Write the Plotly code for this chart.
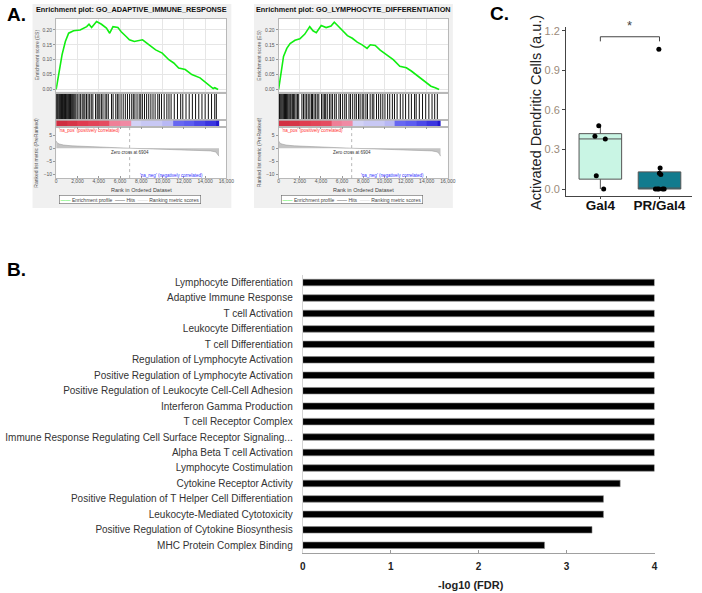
import plotly.graph_objects as go

W, H = 702, 593
FONT = "Liberation Sans, Arial, sans-serif"

# ---- panel A: GSEA enrichment plots -------------------------------------------------
gsea_titles = ["Enrichment plot: GO_ADAPTIVE_IMMUNE_RESPONSE",
               "Enrichment plot: GO_LYMPHOCYTE_DIFFERENTIATION"]

es_rank_a1 = [0, 247, 556, 864, 1173, 1636, 2253, 2870, 3086, 3333, 3796, 4259, 4722, 5031,
              5340, 5802, 6111, 6574, 6883, 7346, 7654, 8117, 8735, 9352, 9969, 10586, 11049,
              11512, 12130, 12747, 13519, 14136, 14753, 14907, 15216]
es_a1 = [0.0, 0.056, 0.117, 0.161, 0.189, 0.197, 0.200, 0.211, 0.219, 0.208, 0.228, 0.219,
         0.206, 0.189, 0.211, 0.208, 0.194, 0.178, 0.167, 0.161, 0.163, 0.167, 0.150, 0.133,
         0.122, 0.100, 0.089, 0.072, 0.067, 0.050, 0.039, 0.022, 0.003, 0.006, 0.0]

es_rank_a2 = [0, 248, 464, 774, 1084, 1548, 2012, 2477, 2941, 3251, 3560, 4025, 4489, 4954,
              5263, 5573, 6037, 6502, 6966, 7430, 7895, 8359, 8669, 9133, 9598, 10217, 10836,
              11455, 12074, 12539, 13158, 13777, 14396, 14799, 15170]
es_a2 = [0.0, 0.052, 0.111, 0.138, 0.154, 0.165, 0.170, 0.186, 0.211, 0.197, 0.191, 0.215,
         0.208, 0.213, 0.226, 0.215, 0.197, 0.181, 0.172, 0.159, 0.150, 0.138, 0.150, 0.148,
         0.132, 0.116, 0.100, 0.078, 0.073, 0.062, 0.046, 0.030, 0.011, 0.006, 0.0]

hits_a1 = [20, 90, 160, 250, 330, 420, 500, 600, 700, 780, 880, 960, 1050, 1150, 1250, 1350,
           1430, 1550, 1650, 1750, 1850, 1980, 2150, 2300, 2450, 2600, 2700, 2850, 3000, 3150,
           3300, 3450, 3700, 3850, 3950, 4100, 4250, 4400, 4600, 4750, 4900, 5200, 5350, 5600,
           5750, 5900, 6100, 6300, 6500, 6700, 6900, 7100, 7250, 7400, 7600, 7800, 7950, 8100,
           8300, 8500, 8700, 8900, 9100, 9300, 9550, 9700, 9900, 10150, 10400, 10600, 10800,
           11100, 11400, 11700, 11900, 12200, 12500, 12800, 13100, 13400, 13700, 14000, 14300,
           14600, 14900, 15050]
hits_a2 = [0, 80, 150, 230, 310, 400, 480, 560, 650, 740, 820, 900, 1000, 1100, 1180, 1300,
           1400, 1520, 1650, 1780, 1900, 2200, 2350, 2500, 2650, 2800, 2950, 3100, 3200, 3350,
           3500, 3650, 3800, 4050, 4200, 4350, 4450, 4600, 4800, 4950, 5100, 5300, 5450, 5700,
           5850, 6050, 6250, 6400, 6650, 6800, 7000, 7200, 7350, 7550, 7700, 7900, 8050, 8250,
           8400, 8650, 8850, 9000, 9250, 9450, 9650, 9850, 10050, 10300, 10500, 10750, 10950,
           11200, 11500, 11750, 12000, 12300, 12550, 12850, 13000, 13300, 13600, 13900, 14200,
           14500, 14750, 15000]

strip_bins = [0, 1000, 2000, 3000, 4000, 5000, 6000, 7000, 8000, 9000, 10000, 11000, 12000,
              13000, 14000, 15000, 15300]
strip_a1 = [0.95, 0.88, 0.8, 0.75, 0.7, 0.45, 0.4, -0.15, -0.2, -0.2, -0.25, -0.55, -0.6,
            -0.7, -0.8, -0.95]
strip_a2 = [0.92, 0.88, 0.8, 0.75, 0.7, 0.45, 0.4, -0.15, -0.2, -0.2, -0.25, -0.55, -0.6,
            -0.7, -0.8, -0.95]

metric_rank = [0, 100, 300, 700, 1500, 3000, 5000, 6904, 9000, 11000, 13000, 14500, 15000,
               15200, 15300]
metric_vals = [2.8, 2.0, 1.6, 1.2, 0.9, 0.6, 0.3, 0.0, -0.25, -0.45, -0.7, -1.0, -1.4, -2.2, -3.0]
zero_cross = 6904

# ---- panel B: GO terms ---------------------------------------------------------------
go_terms = [
    "Lymphocyte Differentiation", "Adaptive Immune Response", "T cell Activation",
    "Leukocyte Differentiation", "T cell Differentiation", "Regulation of Lymphocyte Activation",
    "Positive Regulation of Lymphocyte Activation",
    "Positive Regulation of Leukocyte Cell-Cell Adhesion", "Interferon Gamma Production",
    "T cell Receptor Complex", "Immune Response Regulating Cell Surface Receptor Signaling...",
    "Alpha Beta T cell Activation", "Lymphocyte Costimulation", "Cytokine Receptor Activity",
    "Positive Regulation of T Helper Cell Differentiation", "Leukocyte-Mediated Cytotoxicity",
    "Positive Regulation of Cytokine Biosynthesis", "MHC Protein Complex Binding",
]
neg_log_fdr = [4.0, 4.0, 4.0, 4.0, 4.0, 4.0, 4.0, 4.0, 4.0, 4.0, 4.0, 4.0, 4.0,
               3.61, 3.42, 3.42, 3.29, 2.75]

# ---- panel C: activated dendritic cells ---------------------------------------------
groups = ["Gal4", "PR/Gal4"]
gal4_vals = [0.0, 0.10, 0.38, 0.40, 0.48]
pr_gal4_vals = [0.0, 0.0, 0.0, 0.0, 0.0, 0.11, 0.12, 0.16, 1.06]
sig_level = 1.155


def xd(a, b):
    return [a / W, b / W]


def yd(top, bottom):
    return [1 - bottom / H, 1 - top / H]


def sfx(n):
    return "" if n == 1 else str(n)


def paper_rect(x0, x1, top, bottom, color):
    return dict(type="rect", xref="paper", yref="paper", x0=x0 / W, x1=x1 / W,
                y0=1 - bottom / H, y1=1 - top / H, fillcolor=color,
                line=dict(width=0), layer="below")


fig = go.Figure()
layout = {}
annotations = []
shapes = []

strip_scale = [[0, "#1a10c8"], [0.1, "#3a34e0"], [0.2, "#5c5cf0"], [0.3, "#8888f4"],
               [0.4, "#c8c8f4"], [0.5, "#eeeef8"], [0.6, "#f2bcd8"], [0.7, "#f08aa4"],
               [0.8, "#ea5c70"], [0.9, "#e03c50"], [1, "#c8283a"]]

gsea_specs = [
    dict(xes=1, xlow=2, yes=1, ybar=2, ystrip=3, yrank=4, left=54, right=227, bg=(30, 232),
         es_x=es_rank_a1, es_y=es_a1, hits=hits_a1, strip=strip_a1),
    dict(xes=3, xlow=4, yes=5, ybar=6, ystrip=7, yrank=8, left=280, right=452, bg=(255, 457),
         es_x=es_rank_a2, es_y=es_a2, hits=hits_a2, strip=strip_a2),
]

small = dict(family=FONT, size=5, color="#555")
frame = dict(showline=True, linecolor="#b8b8b8", linewidth=1, zeroline=False)

for spec, title in zip(gsea_specs, gsea_titles):
    xe, xl = "x" + sfx(spec["xes"]), "x" + sfx(spec["xlow"])
    ye, yb, ys, yr = ("y" + sfx(spec[k]) for k in ("yes", "ybar", "ystrip", "yrank"))
    dom = xd(spec["left"], spec["right"])

    fig.add_trace(go.Scatter(x=spec["es_x"], y=spec["es_y"], mode="lines",
                             line=dict(color="#11ee11", width=1.6), xaxis=xe, yaxis=ye,
                             showlegend=False, hoverinfo="skip"))
    hx, hy = [], []
    for h in spec["hits"]:
        hx += [h, h, None]
        hy += [0, 1, None]
    fig.add_trace(go.Scatter(x=hx, y=hy, mode="lines", line=dict(color="#111", width=1),
                             xaxis=xl, yaxis=yb, showlegend=False, hoverinfo="skip"))
    fig.add_trace(go.Heatmap(z=[spec["strip"]], x=strip_bins, y=[0, 1], zmin=-1, zmax=1,
                             colorscale=strip_scale, showscale=False, xaxis=xl, yaxis=ys,
                             hoverinfo="skip"))
    fig.add_trace(go.Scatter(x=metric_rank, y=metric_vals, mode="lines", fill="tozeroy",
                             fillcolor="#c4c4c4", line=dict(color="#a0a0a0", width=0.6),
                             xaxis=xl, yaxis=yr, showlegend=False, hoverinfo="skip"))

    layout["xaxis" + sfx(spec["xes"])] = dict(
        domain=dom, range=[0, 16000], anchor=ye, showticklabels=False, ticks="",
        showgrid=True, gridcolor="#e6e6e6", dtick=2000, mirror=True, **frame)
    layout["xaxis" + sfx(spec["xlow"])] = dict(
        domain=dom, range=[0, 16000], anchor=yr, tickvals=list(range(0, 16001, 2000)),
        tickformat=",", tickfont=small, ticks="inside", ticklen=2, tickcolor="#999",
        ticklabelstandoff=-2, showgrid=False, mirror="all", **frame)
    layout["yaxis" + sfx(spec["yes"])] = dict(
        domain=yd(17, 90), range=[-0.007, 0.237], anchor=xe, dtick=0.05, tickformat=".2f",
        tickfont=small, ticks="outside", ticklen=2, tickcolor="#999",
        showgrid=True, gridcolor="#e6e6e6", mirror=True, **frame)
    layout["yaxis" + sfx(spec["ybar"])] = dict(
        domain=yd(92, 119), range=[0, 1], anchor=xl, showticklabels=False, ticks="",
        showgrid=False, mirror=True, **frame)
    layout["yaxis" + sfx(spec["ystrip"])] = dict(
        domain=yd(119, 126), range=[0, 1], anchor=xl, showticklabels=False, ticks="",
        showgrid=False, mirror=True, **frame)
    layout["yaxis" + sfx(spec["yrank"])] = dict(
        domain=yd(126, 177), range=[-11.3, 7.9], anchor=xl, tickvals=[5, 0, -5, -10],
        tickfont=small, ticks="outside", ticklen=2, tickcolor="#999",
        showgrid=False, mirror=True, **frame)

    bx0, bx1 = spec["bg"]
    shapes.append(paper_rect(bx0, bx1, 2, 207, "#f0f0f0"))
    shapes.append(paper_rect(spec["left"], spec["right"], 17, 90, "white"))
    shapes.append(paper_rect(spec["left"], spec["right"], 92, 177, "white"))
    shapes.append(dict(type="line", xref=xl, yref=yr + " domain", x0=zero_cross,
                       x1=zero_cross, y0=0, y1=1, line=dict(color="#999", width=0.7, dash="dot")))
    cx = (spec["left"] + spec["right"]) / 2
    annotations += [
        dict(text="<b>%s</b>" % title, x=(bx0 + bx1) / 2 / W, y=1 - 8 / H,
             font=dict(family=FONT, size=7.3, color="#111")),
        dict(text="Enrichment score (ES)", x=(spec["left"] - 20) / W, y=1 - 53 / H,
             textangle=-90, font=small),
        dict(text="Ranked list metric (PreRanked)", x=(spec["left"] - 20) / W, y=1 - 151 / H,
             textangle=-90, font=small),
        dict(text="Rank in Ordered Dataset", x=cx / W, y=1 - 189 / H,
             font=dict(family=FONT, size=5.5, color="#444")),
        dict(text="'na_pos' (positively correlated)", x=(spec["left"] + 1) / W, y=1 - 129.5 / H,
             xanchor="left", font=dict(family=FONT, size=4.5, color="#ff3030")),
        dict(text="'na_neg' (negatively correlated)", xref=xl, yref=yr, x=10800, y=-10.2,
             font=dict(family=FONT, size=4.5, color="#3030ff")),
        dict(text="Zero cross at %d" % zero_cross, xref=xl, yref=yr, x=zero_cross, y=-1.6,
             font=dict(family=FONT, size=4.5, color="#333")),
        dict(text='<span style="color:#11ee11">——</span> Enrichment profile  '
                  '<span style="color:#333">——</span> Hits  '
                  '<span style="color:#ccc">——</span> Ranking metric scores',
             x=(spec["left"] + 75) / W, y=1 - 199 / H, bgcolor="white", bordercolor="#666",
             borderwidth=0.6, borderpad=1, font=dict(family=FONT, size=5, color="#444")),
    ]

# ---- panel B -------------------------------------------------------------------------
fig.add_trace(go.Bar(x=neg_log_fdr, y=go_terms, orientation="h", width=0.42,
                     marker=dict(color="black", line=dict(color="#8a8a8a", width=0.6)),
                     xaxis="x5", yaxis="y9", showlegend=False))
layout["xaxis5"] = dict(domain=xd(304.5, 662), range=[0, 4.002], anchor="y9",
                        tickvals=[0, 1, 2, 3, 4], ticks="inside", ticklen=3, tickcolor="#999",
                        showline=True, linecolor="#a0a0a0", showgrid=False, zeroline=False,
                        ticklabelstandoff=4,
                        tickfont=dict(family=FONT, size=10, color="#222", weight="bold"))
layout["yaxis9"] = dict(domain=yd(274.2, 553.8), range=[17.5, -0.5], anchor="x5",
                        showline=True, linecolor="#d4d4d4", ticks="", showgrid=False,
                        ticklabelstandoff=7, tickfont=dict(family=FONT, size=10, color="#333"))
annotations.append(dict(text="<b>-log10 (FDR)</b>", x=475 / W, y=1 - 586 / H,
                        font=dict(family=FONT, size=11, color="#222")))

# ---- panel C -------------------------------------------------------------------------
for name, vals, fill in [(groups[0], gal4_vals, "#c9f5e4"), (groups[1], pr_gal4_vals, "#127b8e")]:
    fig.add_trace(go.Box(x=[name] * len(vals), y=vals, width=0.72, boxpoints="all",
                         jitter=0.3, pointpos=0, whiskerwidth=0, fillcolor=fill,
                         line=dict(color="#555", width=1),
                         marker=dict(color="black", size=5), xaxis="x6", yaxis="y10",
                         showlegend=False))
fig.add_trace(go.Scatter(x=[groups[0], groups[0], groups[1], groups[1]],
                         y=[sig_level - 0.035, sig_level, sig_level, sig_level - 0.035],
                         mode="lines", line=dict(color="#444", width=1),
                         xaxis="x6", yaxis="y10", showlegend=False, hoverinfo="skip"))
annotations.append(dict(text="*", xref="x6", yref="y10", x=0.5, y=sig_level + 0.01,
                        yanchor="bottom", font=dict(family=FONT, size=13, color="#444")))
layout["xaxis6"] = dict(domain=xd(572, 700), range=[-0.58, 1.55], anchor="y10",
                        type="category", categoryorder="array", categoryarray=groups,
                        showline=True, linecolor="#444", ticks="outside", ticklen=2,
                        tickcolor="#444", showgrid=False, zeroline=False, ticklabelstandoff=-5,
                        tickfont=dict(family=FONT, size=13.5, color="#111", weight="bold"))
layout["yaxis10"] = dict(domain=yd(25, 195), range=[-0.053, 1.23], anchor="x6",
                         tickvals=[0, 0.3, 0.6, 0.9, 1.2], tickformat=".1f",
                         showline=True, linecolor="#444", ticks="outside", ticklen=3,
                         tickcolor="#444", showgrid=False, zeroline=False,
                         tickfont=dict(family=FONT, size=11, color="#9b8b7a"))
annotations.append(dict(text="Activated Dendritic Cells (a.u.)", x=542 / W, y=1 - 111 / H,
                        textangle=-90, font=dict(family=FONT, size=14.5, color="#222")))

# ---- panel letters -------------------------------------------------------------------
for letter, px, py in [("A.", 2, 13), ("B.", 2, 269), ("C.", 493, 12)]:
    annotations.append(dict(text="<b>%s</b>" % letter, x=px / W, y=1 - py / H, xanchor="left",
                            font=dict(family=FONT, size=19, color="black")))

for a in annotations:
    a.setdefault("xref", "paper")
    a.setdefault("yref", "paper")
    a.setdefault("xanchor", "center")
    a.setdefault("yanchor", "middle")
    a.setdefault("showarrow", False)

fig.update_layout(width=W, height=H, margin=dict(l=0, r=0, t=0, b=0),
                  paper_bgcolor="white", plot_bgcolor="white", font=dict(family=FONT),
                  annotations=annotations, shapes=shapes, **layout)

fig.write_html("out.html", config={"displayModeBar": False},
               post_script="document.body.style.margin = '0';")
